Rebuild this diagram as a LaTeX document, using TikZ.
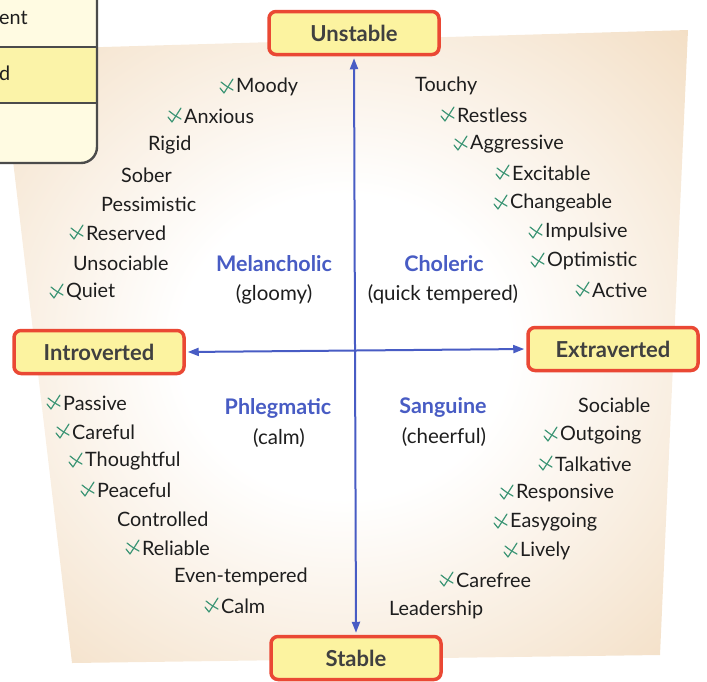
\documentclass[tikz,border=0pt]{standalone}
\usepackage{fontspec}
\setmainfont{Lato}
\usetikzlibrary{arrows.meta,calc}
\definecolor{beige}{RGB}{243,222,196}
\definecolor{cream}{RGB}{255,251,226}
\definecolor{boxyel}{RGB}{251,243,168}
\definecolor{lblfill}{RGB}{252,243,160}
\definecolor{lblred}{RGB}{234,72,52}
\definecolor{axblue}{RGB}{72,92,196}
\definecolor{txt}{RGB}{30,30,30}
\definecolor{penc}{RGB}{62,150,118}
\pgfdeclareradialshading{panelshade}{\pgfpoint{0bp}{0bp}}{color(0bp)=(white); color(12bp)=(white); color(36bp)=(beige); color(50bp)=(beige)}
\tikzset{
  word/.style={anchor=west,inner sep=0pt,text=txt,font=\fontsize{19.8}{22}\selectfont},
  group/.style={inner sep=0pt,text=axblue,font=\fontsize{21.5}{24}\selectfont\bfseries},
  groupsub/.style={inner sep=0pt,text=txt,font=\fontsize{20.5}{23}\selectfont},
  pole/.style={draw=lblred,fill=lblfill,line width=3.5pt,rounded corners=7pt,minimum width=170pt,minimum height=43pt,inner sep=0pt,text=txt!85!white,font=\fontsize{22}{24}\selectfont\bfseries},
  axis/.style={axblue,line width=2pt,{Triangle[length=11pt,width=8pt]}-{Triangle[length=11pt,width=8pt]}},
  pen/.style={penc,line width=1.2pt,line cap=round,line join=round},
  pics/penmark/.style={code={
    \draw[pen] (-16,1) -- (-12,6) -- (-3,-8);
    \draw[pen] (-15,-5) .. controls (-10,-1) .. (-3,3);
  }}
}
\begin{document}
\begin{tikzpicture}[x=1pt,y=-1pt]
\useasboundingbox (0,0) rectangle (707,681);
% background panel
\shade[shading=panelshade] (0,50) -- (688,30) -- (660,655) -- (72,663) -- cycle;

% top-left box
\begin{scope}
  \clip[rounded corners=16pt] (-20,-20) rectangle (97,163);
  \fill[cream] (-20,-20) rectangle (97,47);
  \fill[boxyel] (-20,47) rectangle (97,103);
  \fill[cream] (-20,103) rectangle (97,163);
  \draw[txt!80!white,line width=1.4pt] (-20,47) -- (97,47);
  \draw[txt!80!white,line width=1.4pt] (-20,103) -- (97,103);
\end{scope}
\draw[txt!80!white,line width=2.4pt,rounded corners=16pt] (-20,-20) rectangle (97,163);
\node[word] (ent) at (-1,18) {ent};
\node[word] (dd) at (-1,73) {d};

% poles
\node[pole] (U) at (354,33) {Unstable};
\node[pole] (S) at (356,658) {Stable};
\node[pole] (I) at (99,352) {Introverted};
\node[pole] (E) at (613,349) {Extraverted};

% axes
\draw[axis,shorten <=2pt,shorten >=2pt] (U.south) -- (S.north);
\draw[axis,shorten <=2pt,shorten >=2pt] (I.east) -- (E.west);

% group labels
\node[group] (mel) at (274,264) {Melancholic};
\node[groupsub] (melg) at (274,294) {(gloomy)};
\node[group] (cho) at (444,264) {Choleric};
\node[groupsub] (chog) at (443,294) {(quick tempered)};
\node[group] (phl) at (278,408) {Phlegmatic};
\node[groupsub] (phlg) at (279,438) {(calm)};
\node[group] (san) at (443,407) {Sanguine};
\node[groupsub] (sang) at (444,437) {(cheerful)};

% top-left words
\node[word] (moody) at (236,87) {Moody};
\node[word] (anxious) at (184,116) {Anxious};
\node[word] (rigid) at (148,145) {Rigid};
\node[word] (sober) at (121,175) {Sober};
\node[word] (pess) at (101,204) {Pessimistic};
\node[word] (reserved) at (86,233) {Reserved};
\node[word] (unsoc) at (73,263) {Unsociable};
\node[word] (quiet) at (66,292) {Quiet};

% top-right words
\node[word] (touchy) at (415,86) {Touchy};
\node[word] (restless) at (457,115) {Restless};
\node[word] (aggr) at (470,144) {Aggressive};
\node[word] (excit) at (512,173) {Excitable};
\node[word] (change) at (510,203) {Changeable};
\node[word] (impul) at (545,232) {Impulsive};
\node[word] (optim) at (547,261) {Optimistic};
\node[word] (active) at (592,290) {Active};

% bottom-left words
\node[word] (passive) at (63,403) {Passive};
\node[word] (careful) at (72,432) {Careful};
\node[word] (thought) at (85,461) {Thoughtful};
\node[word] (peace) at (97,490) {Peaceful};
\node[word] (contr) at (117,519) {Controlled};
\node[word] (reliab) at (142,548) {Reliable};
\node[word] (even) at (174,577) {Even-tempered};
\node[word] (calmw) at (221,606) {Calm};

% bottom-right words
\node[word] (sociab) at (578,405) {Sociable};
\node[word] (outgo) at (560,435) {Outgoing};
\node[word] (talk) at (555,464) {Talkative};
\node[word] (resp) at (516,493) {Responsive};
\node[word] (easy) at (510,522) {Easygoing};
\node[word] (lively) at (520,551) {Lively};
\node[word] (carefree) at (456,580) {Carefree};
\node[word] (lead) at (389,610) {Leadership};

% pen marks
\foreach \w in {moody,anxious,reserved,quiet,restless,aggr,excit,change,impul,optim,active,passive,careful,thought,peace,reliab,calmw,outgo,talk,resp,easy,lively,carefree}
  \pic at (\w.west) {penmark};
\end{tikzpicture}
\end{document}
